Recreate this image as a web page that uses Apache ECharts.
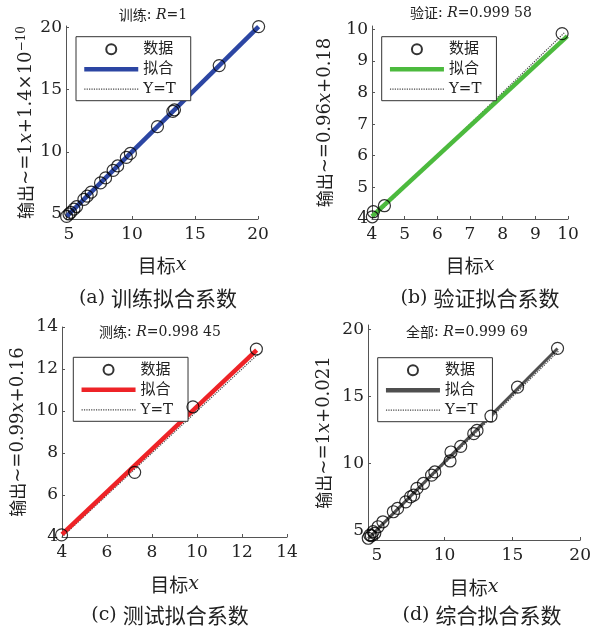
<!DOCTYPE html>
<html><head><meta charset="utf-8">
<script src="https://cdn.jsdelivr.net/npm/echarts@6/dist/echarts.min.js"></script>
<style>html,body{margin:0;padding:0;background:#fff}#c{width:594px;height:634px}</style>
</head><body><div id="c"></div>
<script>
// ---- data ----
const trainT = [4.81, 5.0, 5.13, 5.39, 5.6, 6.18, 6.44, 6.76, 7.5, 7.9, 8.5, 8.86, 9.55, 9.87, 12.02, 13.24, 13.37, 16.92, 20.05];
const trainY = [4.81, 5.0, 5.13, 5.39, 5.6, 6.18, 6.44, 6.76, 7.5, 7.9, 8.5, 8.86, 9.55, 9.87, 12.02, 13.24, 13.37, 16.92, 20.05];
const trainFitX = [4.81, 20.05];
const trainFitY = [4.81, 20.05];

const valT = [4.01, 4.04, 4.38, 9.82];
const valY = [4.07, 4.23, 4.42, 9.86];
const valFitX = [4.0, 9.98];
const valFitY = [4.08, 9.78];

const testT = [3.98, 7.23, 9.82, 12.64];
const testY = [4.1, 7.08, 10.2, 12.95];
const testFitX = [4.0, 12.65];
const testFitY = [4.12, 12.9];

const allT = [4.37, 4.49, 4.6, 4.73, 4.85, 5.09, 5.45, 6.22, 6.53, 7.13, 7.49, 7.72, 7.96, 8.44, 9.04, 9.28, 10.4, 10.47, 11.19, 12.15, 12.39, 13.42, 15.38, 18.33];
const allY = [4.43, 4.67, 4.62, 4.92, 4.8, 5.29, 5.66, 6.41, 6.66, 7.15, 7.52, 7.65, 8.15, 8.52, 9.14, 9.38, 10.2, 10.87, 11.29, 12.24, 12.48, 13.55, 15.71, 18.61];
const allFitX = [4.37, 18.33];
const allFitY = [4.4, 18.6];

const refA = [4.76, 20];
const refB = [4.0, 9.9];
const refC = [4.0, 12.7];
const refD = [4.35, 18.4];

const ticksA = [5, 10, 15, 20];
const ticksB = [4, 5, 6, 7, 8, 9, 10];
const ticksC = [4, 6, 8, 10, 12, 14];
const ticksD = [5, 10, 15, 20];

const legendNames = ['数据', '拟合', 'Y=T'];
const panelTitles = ['训练', '验证', '测练', '全部'];
const panelR = ['1', '0.999 58', '0.998 45', '0.999 69'];
const captions = ['(a) 训练拟合系数', '(b) 验证拟合系数', '(c) 测试拟合系数', '(d) 综合拟合系数'];
const yNames = [
  '{k|输出}{c|~=1}{i|x}{c|+1.4×10}{s|−10}',
  '{k|输出}{c|~=0.96}{i|x}{c|+0.18}',
  '{k|输出}{c|~=0.99}{i|x}{c|+0.16}',
  '{k|输出}{c|~=1}{i|x}{c|+0.021}'
];

// ---- layout / style ----
const FF = "'DejaVu Serif','Noto Sans CJK SC',serif";
const FC = "'Noto Sans CJK SC','DejaVu Serif',serif";
const TXT = '#222';
const grids = [
  {left: 66, top: 26, width: 192, height: 193},
  {left: 372, top: 26, width: 196, height: 193},
  {left: 62, top: 327, width: 225, height: 210},
  {left: 368, top: 325, width: 218, height: 215}
];
const xr = [[4.76, 20], [4, 10], [4, 14], [4.35, 20]];
const yr = [[4.6, 20.1], [4, 10.1], [4, 14], [4.3, 20.35]];
const ticks = [ticksA, ticksB, ticksC, ticksD];
const colors = ['#2c46a3', '#4cba3e', '#ee2327', '#4f4f4f'];
const fitW = [4.5, 4.5, 4.5, 3];
const Ts = [trainT, valT, testT, allT];
const Ys = [trainY, valY, testY, allY];
const FX = [trainFitX, valFitX, testFitX, allFitX];
const FY = [trainFitY, valFitY, testFitY, allFitY];
const refs = [refA, refB, refC, refD];
const legendPos = [[76, 36.7], [381.7, 36.7], [73.3, 357.3], [377.7, 357.7]];
const yNameGap = [30, 38, 35, 35];
const xNameGap = [37, 37, 38, 38];
const titlePos = [[153, 15], [471, 13], [160, 332], [467, 332]];
const capPos = [[158, 298], [480, 298], [170, 615], [482, 615]];
const keys = ['a', 'b', 'c', 'd'];

function pairs(xs, ys) { return xs.map((x, i) => [x, ys[i]]); }

const axisCommon = {
  type: 'value',
  axisLine: {show: true, onZero: false, lineStyle: {color: '#555', width: 1}},
  axisTick: {show: true, inside: true, length: 3, lineStyle: {color: '#555'}},
  splitLine: {show: false},
  axisLabel: {color: TXT, fontFamily: FF, fontSize: 17},
  nameLocation: 'middle'
};

const hidden = {color: 'rgba(0,0,0,0)', borderWidth: 0, opacity: 0};

const option = {
  animation: false,
  backgroundColor: '#fff',
  grid: grids.map(g => Object.assign({containLabel: false}, g)),
  xAxis: grids.map((g, k) => Object.assign({}, axisCommon, {
    gridIndex: k, min: xr[k][0], max: xr[k][1],
    axisLabel: Object.assign({}, axisCommon.axisLabel, {customValues: ticks[k], margin: 7}),
    axisTick: Object.assign({}, axisCommon.axisTick, {customValues: ticks[k]}),
    name: '{k|目标}{i|x}', nameGap: xNameGap[k],
    nameTextStyle: {rich: {k: {fontFamily: FC, fontSize: 19, color: TXT}, i: {fontFamily: FF, fontSize: 19, fontStyle: 'italic', color: TXT}}}
  })),
  yAxis: grids.map((g, k) => Object.assign({}, axisCommon, {
    gridIndex: k, min: yr[k][0], max: yr[k][1],
    axisLabel: Object.assign({}, axisCommon.axisLabel, {customValues: ticks[k], margin: 4}),
    axisTick: Object.assign({}, axisCommon.axisTick, {customValues: ticks[k]}),
    name: yNames[k], nameGap: yNameGap[k], nameRotate: 90,
    nameTextStyle: {rich: {
      k: {fontFamily: FC, fontSize: 17, color: TXT},
      c: {fontFamily: FF, fontSize: 18, color: TXT},
      i: {fontFamily: FF, fontSize: 18, fontStyle: 'italic', color: TXT},
      s: {fontFamily: FF, fontSize: 12, color: TXT, verticalAlign: 'top', padding: [0, 0, 8, 0]}
    }}
  })),
  legend: keys.map((key, k) => ({
    left: legendPos[k][0], top: legendPos[k][1], orient: 'vertical',
    data: [
      {name: key + legendNames[0]},
      {name: key + legendNames[1], itemStyle: hidden, lineStyle: {width: 4.5, color: colors[k], type: 'solid'}},
      {name: key + legendNames[2], itemStyle: hidden, lineStyle: {width: 1.2, color: '#444', type: 'dotted'}}
    ],
    formatter: name => name.slice(1),
    backgroundColor: '#fff', borderColor: '#333', borderWidth: 1, borderRadius: 0,
    padding: [5, 15, 4, 6], itemGap: 5, itemWidth: 54, itemHeight: 10,
    selectedMode: false,
    textStyle: {fontFamily: FF, fontSize: 15, lineHeight: 15, color: TXT}
  })),
  series: [],
  graphic: []
};

keys.forEach((key, k) => {
  option.series.push({
    name: key + 'Y=T', type: 'line', xAxisIndex: k, yAxisIndex: k,
    data: pairs(refs[k], refs[k]), symbol: 'none', clip: false, z: 2,
    lineStyle: {type: 'dotted', width: 1.2, color: '#444'}, itemStyle: {color: '#444'}
  });
  option.series.push({
    name: key + '拟合', type: 'line', xAxisIndex: k, yAxisIndex: k,
    data: pairs(FX[k], FY[k]), symbol: 'none', clip: false, z: 3,
    lineStyle: {width: fitW[k], color: colors[k]}, itemStyle: {color: colors[k]}
  });
  option.series.push({
    name: key + '数据', type: 'scatter', xAxisIndex: k, yAxisIndex: k,
    data: pairs(Ts[k], Ys[k]), symbol: 'circle', symbolSize: 12, clip: false, z: 4,
    itemStyle: {color: 'rgba(0,0,0,0)', borderColor: '#000', borderWidth: 1.2}
  });
  option.graphic.push({
    type: 'text', x: titlePos[k][0], y: titlePos[k][1],
    style: {
      text: '{k|' + panelTitles[k] + '}{c|: }{i|R}{c|=' + panelR[k] + '}',
      align: 'center', verticalAlign: 'middle',
      rich: {k: {fontFamily: FC, fontSize: 14, fill: TXT}, c: {fontFamily: FF, fontSize: 14, fill: TXT}, i: {fontFamily: FF, fontSize: 14, fontStyle: 'italic', fill: TXT}}
    }
  });
  option.graphic.push({
    type: 'text', x: capPos[k][0], y: capPos[k][1],
    style: {
      text: '{c|' + captions[k].slice(0, 4) + '}{k|' + captions[k].slice(4) + '}',
      align: 'center', verticalAlign: 'middle',
      rich: {c: {fontFamily: FF, fontSize: 19, fill: TXT}, k: {fontFamily: FC, fontSize: 21, fill: TXT}}
    }
  });
});

const chart = echarts.init(document.getElementById('c'), null, {renderer: 'canvas'});
chart.setOption(option);
</script>
</body></html>
